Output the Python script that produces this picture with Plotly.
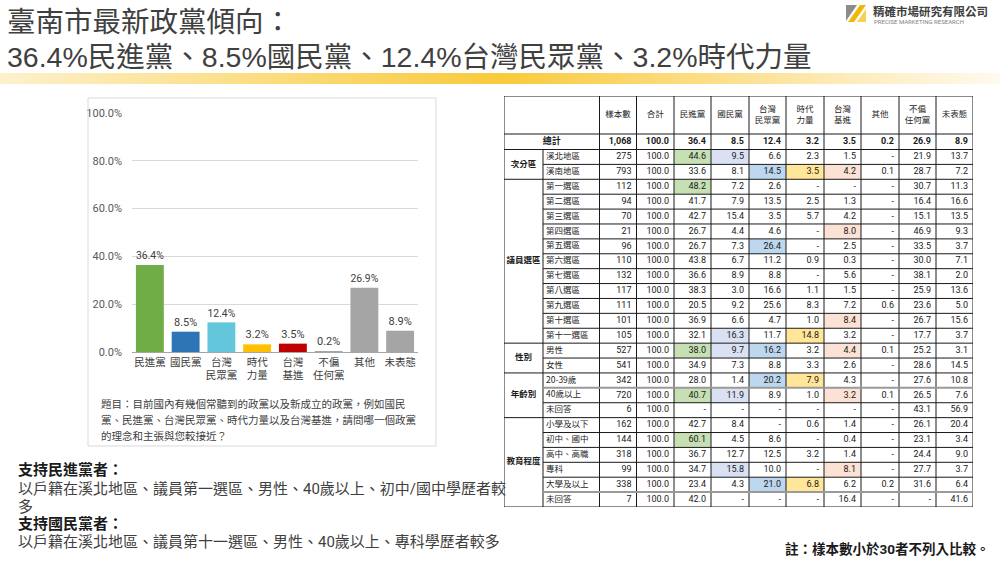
import plotly.graph_objects as go

W, H = 1000, 562
FONT = "Roboto, 'Noto Sans CJK TC', sans-serif"
TITLE_FONT = "'Liberation Sans', 'Noto Sans CJK TC', sans-serif"
CJK = "'Noto Sans CJK TC', sans-serif"

# ---------------- text content ----------------
title_lines = ['臺南市最新政黨傾向：',
               '36.4%民進黨、8.5%國民黨、12.4%台灣民眾黨、3.2%時代力量']
logo_name = '精確市場研究有限公司'
logo_en = 'PRECISE MARKETING RESEARCH'
question_lines = [
    '題目：目前國內有幾個常聽到的政黨以及新成立的政黨，例如國民',
    '黨、民進黨、台灣民眾黨、時代力量以及台灣基進，請問哪一個政黨',
    '的理念和主張與您較接近？',
]
note_lines = [
    '支持民進黨者：',
    '以戶籍在溪北地區、議員第一選區、男性、40歲以上、初中/國中學歷者較',
    '多',
    '支持國民黨者：',
    '以戶籍在溪北地區、議員第十一選區、男性、40歲以上、專科學歷者較多',
]
note_bold = [True, False, False, True, False]
footnote = '註：樣本數小於30者不列入比較。'

# ---------------- bar chart data ----------------
bar_categories = ['民進黨', '國民黨', '台灣<br>民眾黨', '時代<br>力量', '台灣<br>基進',
                  '不偏<br>任何黨', '其他', '未表態']
bar_values = [36.4, 8.5, 12.4, 3.2, 3.5, 0.2, 26.9, 8.9]
bar_colors = ['#70ad47', '#2e75b6', '#63c6da', '#ffc000', '#c00000',
              '#a5a5a5', '#a5a5a5', '#a5a5a5']
y_tick_values = [0, 20, 40, 60, 80, 100]
y_tick_text = ['0.0%', '20.0%', '40.0%', '60.0%', '80.0%', '100.0%']

# ---------------- table data ----------------
table_headers = ['樣本數', '合計', '民進黨', '國民黨', '台灣<br>民眾黨', '時代<br>力量',
                 '台灣<br>基進', '其他', '不偏<br>任何黨', '未表態']
group_names = ['次分區', '議員選區', '性別', '年齡別', '教育程度']
group_sizes = [2, 11, 2, 3, 6]
row_labels = ['總計', '溪北地區', '溪南地區', '第一選區', '第二選區', '第三選區', '第四選區',
              '第五選區', '第六選區', '第七選區', '第八選區', '第九選區', '第十選區',
              '第十一選區', '男性', '女性', '20-39歲', '40歲以上', '未回答', '小學及以下',
              '初中、國中', '高中、高職', '專科', '大學及以上', '未回答']
col_sample = [1068, 275, 793, 112, 94, 70, 21, 96, 110, 132, 117, 111, 101, 105,
              527, 541, 342, 720, 6, 162, 144, 318, 99, 338, 7]
col_total = [100.0, 100.0, 100.0, 100.0, 100.0, 100.0, 100.0, 100.0, 100.0, 100.0,
             100.0, 100.0, 100.0, 100.0, 100.0, 100.0, 100.0, 100.0, 100.0, 100.0,
             100.0, 100.0, 100.0, 100.0, 100.0]
col_dpp = [36.4, 44.6, 33.6, 48.2, 41.7, 42.7, 26.7, 26.7, 43.8, 36.6, 38.3, 20.5, 36.9,
           32.1, 38.0, 34.9, 28.0, 40.7, None, 42.7, 60.1, 36.7, 34.7, 23.4, 42.0]
col_kmt = [8.5, 9.5, 8.1, 7.2, 7.9, 15.4, 4.4, 7.3, 6.7, 8.9, 3.0, 9.2, 6.6,
           16.3, 9.7, 7.3, 1.4, 11.9, None, 8.4, 4.5, 12.7, 15.8, 4.3, None]
col_tpp = [12.4, 6.6, 14.5, 2.6, 13.5, 3.5, 4.6, 26.4, 11.2, 8.8, 16.6, 25.6, 4.7,
           11.7, 16.2, 8.8, 20.2, 8.9, None, None, 8.6, 12.5, 10.0, 21.0, None]
col_npp = [3.2, 2.3, 3.5, None, 2.5, 5.7, None, None, 0.9, None, 1.1, 8.3, 1.0,
           14.8, 3.2, 3.3, 7.9, 1.0, None, 0.6, None, 3.2, None, 6.8, None]
col_tsp = [3.5, 1.5, 4.2, None, 1.3, 4.2, 8.0, 2.5, 0.3, 5.6, 1.5, 7.2, 8.4,
           3.2, 4.4, 2.6, 4.3, 3.2, None, 1.4, 0.4, 1.4, 8.1, 6.2, 16.4]
col_other = [0.2, None, 0.1, None, None, None, None, None, None, None, None, 0.6, None,
             None, 0.1, None, None, 0.1, None, None, None, None, None, 0.2, None]
col_none = [26.9, 21.9, 28.7, 30.7, 16.4, 15.1, 46.9, 33.5, 30.0, 38.1, 25.9, 23.6, 26.7,
            17.7, 25.2, 28.6, 27.6, 26.5, 43.1, 26.1, 23.1, 24.4, 27.7, 31.6, None]
col_undecided = [8.9, 13.7, 7.2, 11.3, 16.6, 13.5, 9.3, 3.7, 7.1, 2.0, 13.6, 5.0, 15.6,
                 3.7, 3.1, 14.5, 10.8, 7.6, 56.9, 20.4, 3.4, 9.0, 3.7, 6.4, 41.6]
table_columns = [col_sample, col_total, col_dpp, col_kmt, col_tpp, col_npp, col_tsp,
                 col_other, col_none, col_undecided]

# highlighted cells (row indices) per party column
hl_dpp = [1, 3, 14, 17, 20]
hl_kmt = [1, 13, 14, 17, 22]
hl_tpp = [2, 7, 14, 16, 23]
hl_npp = [2, 13, 16, 23]
hl_tsp = [2, 6, 12, 14, 17, 22]
highlights = [(2, hl_dpp, '#c6e0b4'), (3, hl_kmt, '#d9e1f2'), (4, hl_tpp, '#bdd7ee'),
              (5, hl_npp, '#ffe699'), (6, hl_tsp, '#fbe2d5')]


def fx(x):
    return x / W


def fy(y):
    return 1 - y / H


fig = go.Figure()

# ---------------- bar chart ----------------
fig.add_trace(go.Bar(
    x=bar_categories, y=bar_values, marker=dict(color=bar_colors, line=dict(width=0)),
    texttemplate='%{y:.1f}%', textposition='outside', cliponaxis=False,
    textfont=dict(family=FONT, size=11, color='#404040'),
    hoverinfo='skip', showlegend=False, xaxis='x', yaxis='y'))

# ---------------- gradient stripe under title ----------------
fig.add_trace(go.Scatter(
    x=[0, 1, 1, 0, 0], y=[0, 0, 1, 1, 0], mode='none', fill='toself',
    fillgradient=dict(type='horizontal',
                      colorscale=[[0, '#fdf1cc'], [0.5, '#f9ca3c'], [1, '#fffaf0']]),
    hoverinfo='skip', showlegend=False, xaxis='x4', yaxis='y4'))

# ---------------- table ----------------
col_edges = [0, 39, 95.5, 132.5, 170, 207, 245, 282, 320, 357, 395, 432, 469]
header_h, total_h = 38, 15.5
n_rows = len(row_labels)
row_h = (411 - header_h - total_h) / (n_rows - 1)
row_edges = [0, header_h, header_h + total_h]
for k in range(n_rows - 1):
    row_edges.append(header_h + total_h + row_h * (k + 1))
T_BOTTOM = row_edges[-1]


def rc(i):
    return (row_edges[i + 1] + row_edges[i + 2]) / 2


shapes = []
for j, rows, color in highlights:
    for i in rows:
        shapes.append(dict(type='rect', xref='x3', yref='y3', layer='below',
                           x0=col_edges[j + 2], x1=col_edges[j + 3],
                           y0=row_edges[i + 1], y1=row_edges[i + 2],
                           fillcolor=color, line=dict(width=0)))

LINE = dict(color='#1a1a1a', width=1)
shapes.append(dict(type='rect', xref='x3', yref='y3', x0=0, x1=col_edges[-1], y0=0,
                   y1=T_BOTTOM, line=LINE))
for e in col_edges[2:-1]:
    shapes.append(dict(type='line', xref='x3', yref='y3', x0=e, x1=e, y0=0, y1=T_BOTTOM, line=LINE))
shapes.append(dict(type='line', xref='x3', yref='y3', x0=col_edges[1], x1=col_edges[1],
                   y0=row_edges[2], y1=T_BOTTOM, line=LINE))
shapes.append(dict(type='line', xref='x3', yref='y3', x0=0, x1=col_edges[-1],
                   y0=row_edges[1], y1=row_edges[1], line=LINE))
shapes.append(dict(type='line', xref='x3', yref='y3', x0=0, x1=col_edges[-1],
                   y0=row_edges[2], y1=row_edges[2], line=LINE))
group_starts = []
start = 1
for g in group_sizes:
    group_starts.append(start)
    start += g
gray_breaks = [17, 24]
for i in range(2, n_rows):
    y = row_edges[i + 1]
    if i in group_starts:
        shapes.append(dict(type='line', xref='x3', yref='y3', x0=0, x1=col_edges[-1],
                           y0=y, y1=y, line=LINE))
    elif i in gray_breaks:
        shapes.append(dict(type='line', xref='x3', yref='y3', x0=col_edges[1], x1=col_edges[-1],
                           y0=y, y1=y, line=dict(color='#9a9a9a', width=2)))
    else:
        shapes.append(dict(type='line', xref='x3', yref='y3', x0=col_edges[1], x1=col_edges[-1],
                           y0=y, y1=y, line=LINE))

fig.add_trace(go.Scatter(
    x=[(col_edges[j + 2] + col_edges[j + 3]) / 2 for j in range(len(table_headers))],
    y=[header_h / 2] * len(table_headers), text=table_headers, mode='text',
    textposition='middle center', textfont=dict(family=CJK, size=8.5, color='#262626'),
    hoverinfo='skip', showlegend=False, cliponaxis=False, xaxis='x3', yaxis='y3'))

fig.add_trace(go.Scatter(
    x=[col_edges[2] / 2], y=[rc(0)], text=['<b>' + row_labels[0] + '</b>'], mode='text',
    textposition='middle center', textfont=dict(family=CJK, size=9, color='#1a1a1a'),
    hoverinfo='skip', showlegend=False, cliponaxis=False, xaxis='x3', yaxis='y3'))

fig.add_trace(go.Scatter(
    x=[col_edges[1] + 3] * (n_rows - 1), y=[rc(i) for i in range(1, n_rows)],
    text=row_labels[1:], mode='text', textposition='middle right',
    textfont=dict(family=CJK, size=8.5, color='#262626'),
    hoverinfo='skip', showlegend=False, cliponaxis=False, xaxis='x3', yaxis='y3'))

gy = []
for s, g in zip(group_starts, group_sizes):
    gy.append((row_edges[s + 1] + row_edges[s + g + 1]) / 2)
fig.add_trace(go.Scatter(
    x=[col_edges[1] / 2] * len(group_names), y=gy,
    text=['<b>' + g + '</b>' for g in group_names], mode='text', textposition='middle center',
    textfont=dict(family=CJK, size=8.5, color='#1a1a1a'),
    hoverinfo='skip', showlegend=False, cliponaxis=False, xaxis='x3', yaxis='y3'))


def fmt(v, j):
    if v is None:
        return '-'
    if j == 0:
        return f'{v:,}'
    return f'{v:.1f}'


for j, col in enumerate(table_columns):
    texts = []
    for i, v in enumerate(col):
        t = fmt(v, j)
        texts.append('<b>' + t + '</b>' if i == 0 else t)
    fig.add_trace(go.Scatter(
        x=[col_edges[j + 3] - 5] * n_rows, y=[rc(i) for i in range(n_rows)], text=texts,
        mode='text', textposition='middle left',
        textfont=dict(family=FONT, size=9, color='#1a1a1a'),
        hoverinfo='skip', showlegend=False, cliponaxis=False, xaxis='x3', yaxis='y3'))

# ---------------- decorative shapes ----------------
shapes.append(dict(type='rect', xref='paper', yref='paper', x0=fx(88), x1=fx(436),
                   y0=fy(446), y1=fy(98), line=dict(color='#d9d9d9', width=1)))


def path(points):
    return 'M' + ' L'.join(f'{fx(x)},{fy(y)}' for x, y in points) + ' Z'


shapes.append(dict(type='path', xref='paper', yref='paper',
                   path=path([(846, 5), (857, 5), (846, 21)]),
                   fillcolor='#8c8c8c', line=dict(width=0)))
shapes.append(dict(type='path', xref='paper', yref='paper',
                   path=path([(848, 22), (860, 5), (866, 5), (854, 22)]),
                   fillcolor='#f2b705', line=dict(width=0)))
shapes.append(dict(type='path', xref='paper', yref='paper',
                   path=path([(857, 22), (866, 9), (866, 22)]),
                   fillcolor='#f7d154', line=dict(width=0)))

# ---------------- annotations ----------------
ann = []
for line, yy in zip(title_lines, [22, 57]):
    ann.append(dict(text=line, x=fx(5), y=fy(yy), xanchor='left', yanchor='middle',
                    font=dict(family=TITLE_FONT, size=28.5, color='#404040')))
ann.append(dict(text='<b>' + logo_name + '</b>', x=fx(871), y=fy(11), xanchor='left',
                yanchor='middle', font=dict(family=CJK, size=11.5, color='#404040')))
ann.append(dict(text=logo_en, x=fx(872), y=fy(21), xanchor='left', yanchor='middle',
                font=dict(family=FONT, size=6, color='#7f7f7f')))
for k, line in enumerate(question_lines):
    ann.append(dict(text=line, x=fx(99), y=fy(403 + 16.3 * k), xanchor='left',
                    yanchor='middle', font=dict(family=CJK, size=10.5, color='#404040')))
for line, b, yy in zip(note_lines, note_bold, [470, 489, 507, 524, 542]):
    ann.append(dict(text=('<b>' + line + '</b>') if b else line, x=fx(16), y=fy(yy),
                    xanchor='left', yanchor='middle',
                    font=dict(family=FONT, size=15, color='#1a1a1a' if b else '#404040')))
ann.append(dict(text='<b>' + footnote + '</b>', x=fx(992), y=fy(549), xanchor='right',
                yanchor='middle', font=dict(family=FONT, size=13.5, color='#1a1a1a')))
for a in ann:
    a.update(xref='paper', yref='paper', showarrow=False)

fig.update_layout(
    width=W, height=H, margin=dict(l=0, r=0, t=0, b=0, pad=0, autoexpand=False),
    paper_bgcolor='white', plot_bgcolor='rgba(0,0,0,0)',
    font=dict(family=FONT, color='#404040'),
    bargap=0.22, showlegend=False,
    xaxis=dict(domain=[fx(132), fx(418)], anchor='y', type='category',
               categoryorder='array', categoryarray=bar_categories, automargin=False,
               showline=True, linecolor='#a6a6a6', linewidth=1, ticks='',
               tickfont=dict(family=CJK, size=10.5, color='#404040'), fixedrange=True),
    yaxis=dict(domain=[fy(352), fy(113)], anchor='x', range=[0, 100], automargin=False,
               tickvals=y_tick_values, ticktext=y_tick_text,
               showgrid=True, gridcolor='#d9d9d9', gridwidth=1, zeroline=False,
               ticklabelstandoff=9, tickfont=dict(family=FONT, size=11, color='#595959'),
               fixedrange=True),
    xaxis3=dict(domain=[fx(504), fx(973)], anchor='y3', range=[0, col_edges[-1]],
                visible=False, fixedrange=True, automargin=False),
    yaxis3=dict(domain=[fy(507), fy(96)], anchor='x3', range=[T_BOTTOM, 0],
                visible=False, fixedrange=True, automargin=False),
    xaxis4=dict(domain=[0, 1], anchor='y4', range=[0, 1], visible=False, fixedrange=True,
                automargin=False),
    yaxis4=dict(domain=[fy(84), fy(73)], anchor='x4', range=[0, 1], visible=False,
                fixedrange=True, automargin=False),
    shapes=shapes, annotations=ann,
)

fig.write_html('out.html', config={'displayModeBar': False},
               post_script="document.body.style.margin='0px';")
